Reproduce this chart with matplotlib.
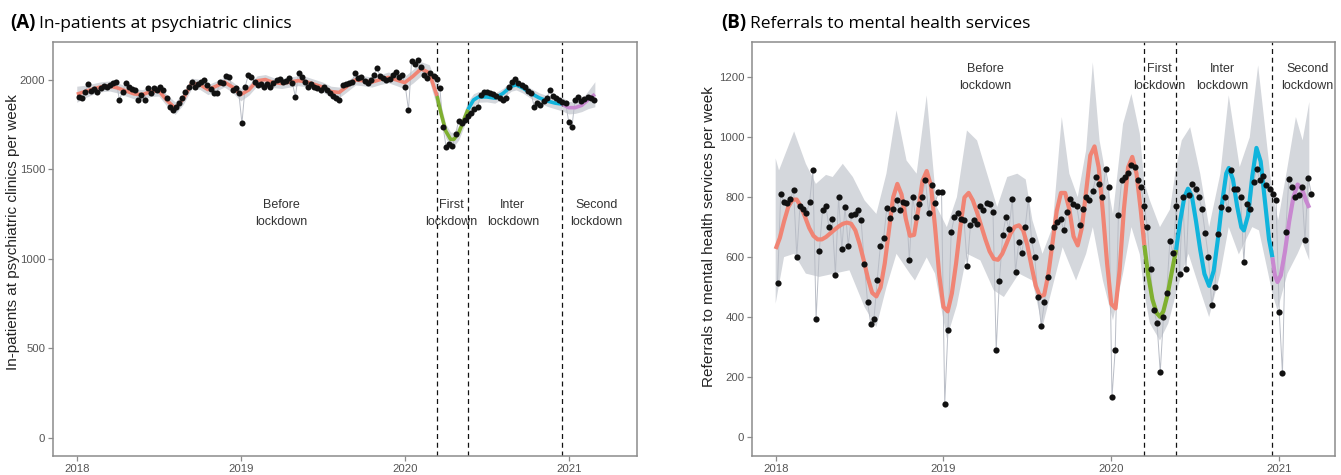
import matplotlib
matplotlib.use("Agg")
import matplotlib.pyplot as plt
import numpy as np
import pandas as pd

# ---------------- data ----------------
period_labels = ["Before\nlockdown", "First\nlockdown", "Inter\nlockdown", "Second\nlockdown"]
period_label_x = [2019.25, 2020.285, 2020.66, 2021.17]
lockdown_lines = [2020.197, 2020.386, 2020.96]
year_ticks = [2018, 2019, 2020, 2021]

# Panel A: weekly in-patients
inpat = [1905, 1900, 1930, 1975, 1940, 1950, 1935, 1955, 1965, 1960,
         1972, 1981, 1991, 1888, 1935, 1985, 1960, 1950, 1944, 1888,
         1915, 1888, 1953, 1926, 1953, 1945, 1963, 1944, 1900, 1851,
         1832, 1851, 1870, 1898, 1935, 1963, 1991, 1963, 1975, 1991,
         2000, 1972, 1950, 1926, 1926, 1991, 1981, 2022, 2018, 1944,
         1953, 1926, 1758, 1960, 2028, 2018, 1990, 1972, 1980, 1963,
         1975, 1963, 1985, 2000, 2005, 1991, 1995, 2009, 1985, 1907,
         2037, 2018, 1990, 1963, 1975, 1963, 1955, 1945, 1963, 1945,
         1926, 1910, 1898, 1888, 1972, 1975, 1981, 1991, 2037, 2010,
         2018, 1995, 1981, 2000, 2030, 2065, 2020, 2009, 2000, 2005,
         2025, 2046, 2015, 2028, 1963, 1832, 2107, 2088, 2111, 2070,
         2028, 2009, 2037, 2020, 2005, 1953, 1738, 1624, 1640, 1632,
         1700, 1773, 1760, 1776, 1800, 1814, 1840, 1851, 1916, 1935,
         1930, 1926, 1920, 1910, 1898, 1888, 1898, 1960, 1991, 2005,
         1985, 1972, 1963, 1940, 1926, 1851, 1870, 1860, 1880, 1898,
         1944, 1910, 1898, 1888, 1879, 1870, 1767, 1735, 1888, 1903,
         1885, 1895, 1907, 1900, 1888]

# Panel B: weekly referrals
referrals = [514, 810, 785, 780, 795, 825, 603, 773, 760, 748,
             785, 892, 395, 621, 757, 773, 701, 729, 543, 801,
             628, 768, 639, 740, 746, 757, 723, 579, 451, 379,
             395, 525, 639, 665, 765, 732, 762, 790, 757, 785,
             781, 590, 801, 734, 779, 801, 859, 748, 843, 781,
             818, 818, 113, 357, 684, 734, 748, 729, 723, 573,
             707, 723, 712, 773, 757, 781, 777, 751, 292, 523,
             673, 734, 695, 795, 551, 650, 614, 700, 795, 657,
             600, 468, 373, 451, 535, 634, 701, 718, 729, 690,
             751, 795, 779, 773, 707, 760, 801, 790, 820, 868,
             845, 800, 895, 834, 134, 292, 740, 857, 868, 880,
             907, 901, 857, 834, 773, 701, 560, 426, 380, 218,
             401, 480, 655, 615, 770, 545, 801, 562, 807, 845,
             829, 801, 760, 680, 600, 443, 501, 679, 768, 801,
             760, 890, 829, 829, 801, 584, 779, 762, 851, 895,
             857, 870, 840, 829, 812, 792, 418, 214, 684, 862,
             834, 800, 807, 834, 657, 865, 812]

# Panel A smooth curves per period (decimal year, value, ribbon half-width)
a_before_x = [2018.0, 2018.05, 2018.1, 2018.15, 2018.2, 2018.25, 2018.3, 2018.35, 2018.4, 2018.45,
              2018.5, 2018.55, 2018.6, 2018.65, 2018.7, 2018.75, 2018.8, 2018.85, 2018.9, 2018.95,
              2019.0, 2019.05, 2019.1, 2019.15, 2019.2, 2019.25, 2019.3, 2019.35, 2019.4, 2019.45,
              2019.5, 2019.55, 2019.6, 2019.65, 2019.7, 2019.75, 2019.8, 2019.85, 2019.9, 2019.95,
              2020.0, 2020.05, 2020.1, 2020.15, 2020.197]
a_before_y = [1920, 1935, 1950, 1962, 1966, 1955, 1938, 1922, 1918, 1935,
              1940, 1885, 1842, 1895, 1980, 1975, 1946, 1965, 1988, 1960,
              1918, 1945, 1995, 2002, 1985, 1980, 1988, 1996, 1990, 1975,
              1960, 1935, 1930, 1965, 2000, 1995, 1988, 2002, 2014, 2000,
              1985, 2020, 2062, 2040, 1910]
a_before_w = [45, 35, 30, 28, 28, 28, 28, 28, 28, 28,
              30, 32, 35, 32, 30, 28, 28, 28, 28, 30,
              35, 30, 28, 28, 28, 28, 28, 28, 28, 28,
              28, 30, 30, 30, 28, 28, 28, 28, 30, 32,
              35, 38, 40, 45, 60]
a_first_x = [2020.197, 2020.22, 2020.25, 2020.28, 2020.30, 2020.33, 2020.36, 2020.386]
a_first_y = [1910, 1820, 1715, 1668, 1668, 1705, 1775, 1835]
a_first_w = [55, 45, 40, 40, 40, 40, 40, 45]
a_inter_x = [2020.386, 2020.42, 2020.45, 2020.5, 2020.55, 2020.6, 2020.65, 2020.68, 2020.72,
             2020.77, 2020.82, 2020.87, 2020.92, 2020.96]
a_inter_y = [1835, 1888, 1905, 1905, 1898, 1925, 1965, 1972, 1955, 1925, 1900, 1882, 1870, 1865]
a_inter_w = [45, 35, 30, 28, 28, 28, 28, 28, 28, 28, 28, 30, 32, 38]
a_second_x = [2020.96, 2021.0, 2021.04, 2021.08, 2021.12, 2021.16]
a_second_y = [1865, 1845, 1845, 1858, 1890, 1920]
a_second_w = [38, 35, 32, 35, 50, 70]

# Panel B smooth curves per period
b_before_x = [2018.0, 2018.025, 2018.05, 2018.075, 2018.1, 2018.125, 2018.15, 2018.175, 2018.2, 2018.225,
              2018.25, 2018.275, 2018.3, 2018.325, 2018.35, 2018.375, 2018.4, 2018.425, 2018.45, 2018.475,
              2018.5, 2018.525, 2018.55, 2018.575, 2018.6, 2018.625, 2018.65, 2018.675, 2018.7, 2018.725,
              2018.75, 2018.775, 2018.8, 2018.825, 2018.85, 2018.875, 2018.9, 2018.925, 2018.95, 2018.975,
              2019.0, 2019.025, 2019.05, 2019.075, 2019.1, 2019.125, 2019.15, 2019.175, 2019.2, 2019.225,
              2019.25, 2019.275, 2019.3, 2019.325, 2019.35, 2019.375, 2019.4, 2019.425, 2019.45, 2019.475,
              2019.5, 2019.525, 2019.55, 2019.575, 2019.6, 2019.625, 2019.65, 2019.675, 2019.7, 2019.725,
              2019.75, 2019.775, 2019.8, 2019.825, 2019.85, 2019.875, 2019.9, 2019.925, 2019.95, 2019.975,
              2020.0, 2020.025, 2020.05, 2020.075, 2020.1, 2020.125, 2020.15, 2020.175, 2020.197]
b_before_y = [628, 665, 720, 768, 792, 793, 770, 735, 698, 672,
              660, 660, 668, 680, 692, 703, 712, 716, 712, 690,
              645, 590, 530, 482, 470, 500, 580, 690, 800, 845,
              810, 730, 672, 675, 760, 855, 888, 840, 700, 540,
              435, 420, 480, 580, 700, 800, 815, 790, 750, 705,
              660, 620, 595, 592, 612, 645, 680, 702, 707, 690,
              640, 570, 505, 470, 475, 545, 650, 755, 815, 815,
              760, 670, 640, 700, 820, 940, 970, 900, 750, 580,
              445, 430, 560, 760, 900, 935, 880, 760, 640]
b_first_x = [2020.197, 2020.22, 2020.245, 2020.27, 2020.29, 2020.31, 2020.335, 2020.36, 2020.386]
b_first_y = [640, 540, 460, 415, 402, 420, 475, 550, 625]
b_inter_x = [2020.386, 2020.41, 2020.435, 2020.457, 2020.48, 2020.505, 2020.53, 2020.555, 2020.583,
             2020.61, 2020.635, 2020.66, 2020.685, 2020.70, 2020.725, 2020.75, 2020.775, 2020.79,
             2020.815, 2020.84, 2020.865, 2020.89, 2020.915, 2020.94, 2020.96]
b_inter_y = [625, 720, 800, 829, 805, 720, 625, 545, 505,
             555, 660, 780, 880, 898, 860, 770, 700, 690,
             740, 870, 965, 920, 790, 660, 600]
b_second_x = [2020.96, 2020.975, 2020.99, 2021.01, 2021.035, 2021.06, 2021.085, 2021.11, 2021.135, 2021.16, 2021.18]
b_second_y = [600, 540, 518, 540, 620, 720, 800, 843, 830, 790, 765]

# Panel B ribbon (upper and lower envelopes)
b_rib_hi_x = [2018.0, 2018.02, 2018.11, 2018.18, 2018.24, 2018.3, 2018.34, 2018.4, 2018.46, 2018.53,
              2018.6, 2018.66, 2018.72, 2018.78, 2018.84, 2018.9, 2018.96, 2019.02, 2019.08, 2019.14,
              2019.2, 2019.26, 2019.32, 2019.38, 2019.44, 2019.49, 2019.53, 2019.59, 2019.65, 2019.705,
              2019.75, 2019.8, 2019.85, 2019.89, 2019.93, 2020.01, 2020.07, 2020.12, 2020.17, 2020.197,
              2020.23, 2020.29, 2020.35, 2020.386, 2020.42, 2020.47, 2020.53, 2020.583, 2020.65, 2020.7,
              2020.765, 2020.825, 2020.875, 2020.925, 2020.96, 2020.995, 2021.05, 2021.1, 2021.14, 2021.18]
b_rib_hi = [930, 890, 1020, 912, 845, 875, 868, 912, 868, 790,
            745, 879, 1090, 923, 879, 1140, 768, 701, 801, 1023,
            990, 879, 768, 868, 879, 860, 724, 612, 701, 1068,
            879, 801, 957, 1250, 990, 745, 1045, 1145, 1012, 850,
            790, 701, 760, 900, 990, 1034, 879, 701, 879, 1140,
            901, 1000, 1240, 990, 812, 724, 901, 1068, 990, 1118]
b_rib_lo_x = [2018.0, 2018.05, 2018.11, 2018.18, 2018.26, 2018.35, 2018.44, 2018.53, 2018.6, 2018.66,
              2018.72, 2018.8, 2018.83, 2018.9, 2018.95, 2019.02, 2019.08, 2019.14, 2019.22, 2019.3,
              2019.36, 2019.45, 2019.53, 2019.59, 2019.65, 2019.71, 2019.79, 2019.85, 2019.89, 2019.95,
              2020.01, 2020.07, 2020.12, 2020.17, 2020.197, 2020.23, 2020.29, 2020.34, 2020.386, 2020.42,
              2020.46, 2020.53, 2020.583, 2020.65, 2020.7, 2020.76, 2020.84, 2020.88, 2020.93, 2020.96,
              2020.99, 2021.05, 2021.11, 2021.14, 2021.18]
b_rib_lo = [446, 601, 612, 546, 535, 546, 557, 434, 368, 500,
            612, 546, 523, 600, 546, 330, 440, 612, 590, 490,
            468, 546, 523, 368, 501, 634, 523, 612, 701, 523,
            390, 546, 701, 610, 480, 380, 323, 380, 480, 546,
            612, 490, 401, 546, 701, 610, 701, 690, 560, 480,
            423, 546, 612, 650, 590]

# ---------------- style ----------------
colors = ["#F08474", "#7FB030", "#10B4DC", "#C888D0"]
rib_color = "#CDD0D6"
thin_color = "#B9BDC6"
spine_color = "#8C8C8C"
tick_color = "#555555"

plt.rcParams["font.family"] = ["Liberation Sans", "DejaVu Sans"]

W, H = 1341, 475
fig = plt.figure(figsize=(W / 100, H / 100), dpi=100)

def px_axes(l, r, t, b):
    return fig.add_axes([l / W, 1 - b / H, (r - l) / W, (b - t) / H])

axA = px_axes(53, 637, 42, 456)
axB = px_axes(752, 1335, 42, 456)

def week_years(n):
    d = pd.date_range("2018-01-05", periods=n, freq="7D")
    return 2018 + (d - pd.Timestamp("2018-01-01")).days / 365.25

def style_axis(ax):
    for s in ax.spines.values():
        s.set_color(spine_color)
        s.set_linewidth(1.1)
    ax.tick_params(axis="both", colors=spine_color, length=3.5, width=0.9,
                   labelcolor=tick_color, labelsize=8.2, pad=2)
    ax.set_xticks(year_ticks)
    ax.set_xticklabels([str(y) for y in year_ticks])

# ---------- Panel A ----------
xa = week_years(len(inpat))
segsA = [(a_before_x, a_before_y, a_before_w), (a_first_x, a_first_y, a_first_w),
         (a_inter_x, a_inter_y, a_inter_w), (a_second_x, a_second_y, a_second_w)]
for (sx, sy, sw), c in zip(segsA, colors):
    sx = np.array(sx); sy = np.array(sy); sw = np.array(sw)
    axA.fill_between(sx, sy - sw, sy + sw, color=rib_color, lw=0, alpha=0.85, zorder=1)
axA.plot(xa, inpat, color=thin_color, lw=0.7, zorder=2)
for (sx, sy, sw), c in zip(segsA, colors):
    axA.plot(sx, sy, color=c, lw=2.6, solid_capstyle="butt", zorder=3)
axA.scatter(xa, inpat, s=19, color="#111111", lw=0, zorder=4)
for xv in lockdown_lines:
    axA.axvline(xv, color="#111111", lw=0.9, ls=(0, (4, 3)), zorder=2.5)
axA.set_xlim(2017.855, 2021.417)
axA.set_ylim(-102, 2212)
axA.set_yticks([0, 500, 1000, 1500, 2000])
style_axis(axA)
axA.set_ylabel("In-patients at psychiatric clinics per week", fontsize=11, color="#222222")
axA.yaxis.set_label_coords(-0.056, 0.54)
for lab, xv in zip(period_labels, period_label_x):
    axA.text(xv, 1254, lab, ha="center", va="center", fontsize=9, color="#333333", linespacing=1.5)

# ---------- Panel B ----------
xb = week_years(len(referrals))
segsB = [(b_before_x, b_before_y), (b_first_x, b_first_y),
         (b_inter_x, b_inter_y), (b_second_x, b_second_y)]
poly_x = list(b_rib_hi_x) + list(b_rib_lo_x[::-1])
poly_y = list(b_rib_hi) + list(b_rib_lo[::-1])
axB.fill(poly_x, poly_y, color=rib_color, lw=0, alpha=0.85, zorder=1)
axB.plot(xb, referrals, color=thin_color, lw=0.7, zorder=2)
for (sx, sy), c in zip(segsB, colors):
    axB.plot(sx, sy, color=c, lw=3.0, solid_capstyle="butt", zorder=3)
axB.scatter(xb, referrals, s=20, color="#111111", lw=0, zorder=4)
for xv in lockdown_lines:
    axB.axvline(xv, color="#111111", lw=0.9, ls=(0, (4, 3)), zorder=2.5)
axB.set_xlim(2017.859, 2021.333)
axB.set_ylim(-62, 1318)
axB.set_yticks([0, 200, 400, 600, 800, 1000, 1200])
style_axis(axB)
axB.set_ylabel("Referrals to mental health services per week", fontsize=11, color="#222222")
axB.yaxis.set_label_coords(-0.062, 0.53)
for lab, xv in zip(period_labels, period_label_x):
    axB.text(xv, 1200, lab, ha="center", va="center", fontsize=9, color="#333333", linespacing=1.5)

# ---------- titles ----------
title_font = ["Open Sans", "DejaVu Sans"]
tA = fig.text(10 / W, 1 - 28 / H, "(A)", fontsize=13.5, fontweight="bold", family=title_font, va="baseline")
tB = fig.text(721 / W, 1 - 28 / H, "(B)", fontsize=13.5, fontweight="bold", family=title_font, va="baseline")
fig.canvas.draw()
r = fig.canvas.get_renderer()
for t, s in [(tA, "In-patients at psychiatric clinics"), (tB, "Referrals to mental health services")]:
    bb = t.get_window_extent(r)
    fig.text((bb.x1 + 4) / W, 1 - 28 / H, s, fontsize=12.5, family=title_font, va="baseline")

fig.savefig("out.png", dpi=100)
